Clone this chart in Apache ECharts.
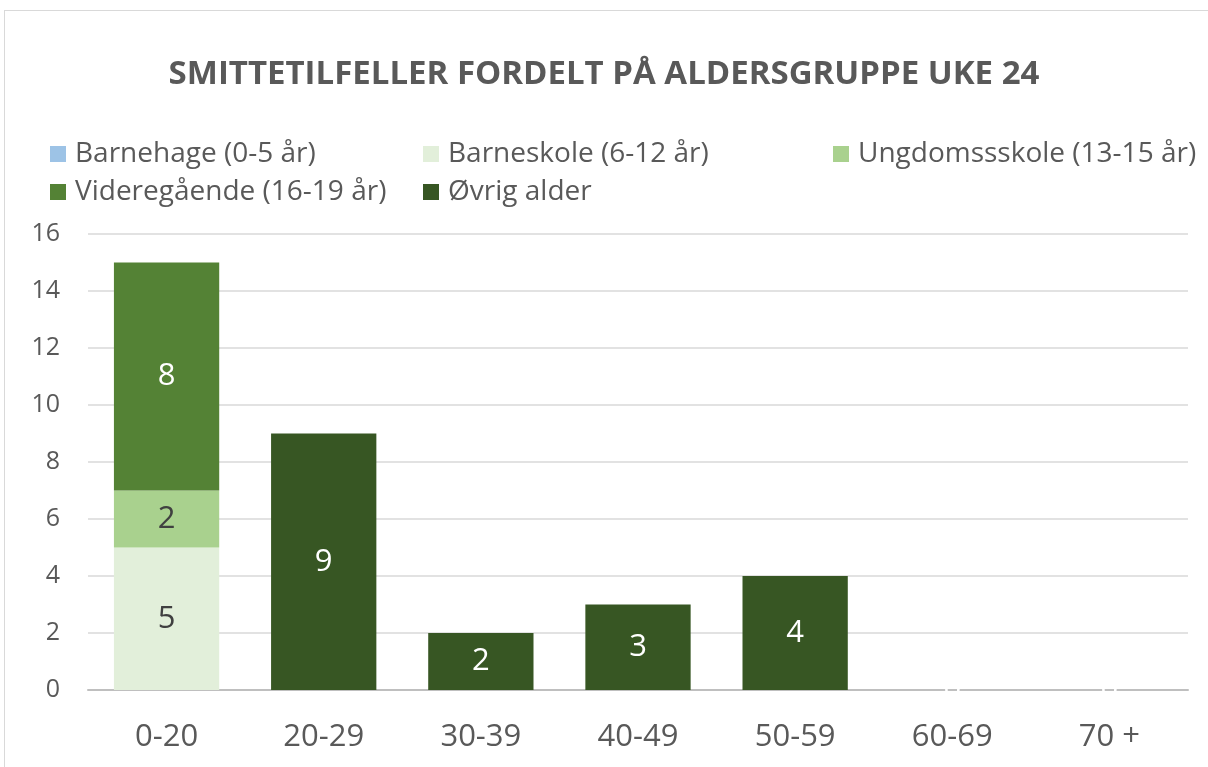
<!DOCTYPE html>
<html>
<head>
<meta charset="utf-8">
<script src="https://cdn.jsdelivr.net/npm/echarts@6/dist/echarts.min.js"></script>
<style>
html,body{margin:0;padding:0;background:#fff;}
#chart{width:1208px;height:767px;}
#frame{position:absolute;left:4px;top:10px;width:1220px;height:800px;border:1px solid #d9d9d9;pointer-events:none;}
</style>
</head>
<body>
<div id="frame"></div>
<div id="chart"></div>
<script>
// data
var categories = ["0-20", "20-29", "30-39", "40-49", "50-59", "60-69", "70 +"];
var seriesNames = ["Barnehage (0-5 år)", "Barneskole (6-12 år)", "Ungdomssskole (13-15 år)", "Videregående (16-19 år)", "Øvrig alder"];
var barnehage = ["-", "-", "-", "-", "-", "-", "-"];
var barneskole = [5, "-", "-", "-", "-", "-", "-"];
var ungdomsskole = [2, "-", "-", "-", "-", "-", "-"];
var videregaende = [8, "-", "-", "-", "-", "-", "-"];
var ovrig = ["-", 9, 2, 3, 4, 0, 0];
var yTicks = [0, 16, 2];

var colors = ["#9dc3e6", "#e2efda", "#a9d18e", "#548235", "#375623"];
var labelColors = ["#404040", "#404040", "#404040", "#ffffff", "#ffffff"];
var allData = [barnehage, barneskole, ungdomsskole, videregaende, ovrig];
var fontFam = "'Open Sans', sans-serif";

var myChart = echarts.init(document.getElementById("chart"));

var legendPos = [[45, 135], [418, 135], [828, 135], [45, 173], [418, 173]];
var legends = [];
for (var i = 0; i < seriesNames.length; i++) {
    legends.push({
        data: [seriesNames[i]],
        left: legendPos[i][0],
        top: legendPos[i][1],
        itemWidth: 16,
        itemHeight: 16,
        itemGap: 6,
        icon: 'rect',
        selectedMode: false,
        textStyle: {fontSize: 28, color: '#595959', fontFamily: fontFam, padding: [0, 0, 0, 4]}
    });
}

var series = [];
for (var k = 0; k < seriesNames.length; k++) {
    series.push({
        name: seriesNames[k],
        type: 'bar',
        stack: 'total',
        barWidth: '67%',
        data: allData[k],
        itemStyle: {color: colors[k]},
        label: {
            show: true,
            position: 'inside',
            color: labelColors[k],
            fontSize: 31,
            fontFamily: fontFam
        }
    });
}

var option = {
    animation: false,
    title: {
        text: "SMITTETILFELLER FORDELT PÅ ALDERSGRUPPE UKE 24",
        left: 'center',
        top: 53,
        textStyle: {fontSize: 33, fontWeight: 'bold', color: '#595959', fontFamily: fontFam}
    },
    legend: legends,
    grid: {left: 88, right: 20, top: 234, bottom: 77, containLabel: false},
    xAxis: {
        type: 'category',
        data: categories,
        axisLine: {lineStyle: {color: '#bfbfbf', width: 2}},
        axisTick: {show: false},
        axisLabel: {color: '#595959', fontSize: 31, fontFamily: fontFam, margin: 32}
    },
    yAxis: {
        type: 'value',
        min: yTicks[0],
        max: yTicks[1],
        interval: yTicks[2],
        axisLine: {show: false},
        axisTick: {show: false},
        axisLabel: {color: '#595959', fontSize: 25, fontFamily: fontFam, margin: 28},
        splitLine: {lineStyle: {color: '#d9d9d9', width: 1.5}}
    },
    series: series
};
myChart.setOption(option);
</script>
</body>
</html>
